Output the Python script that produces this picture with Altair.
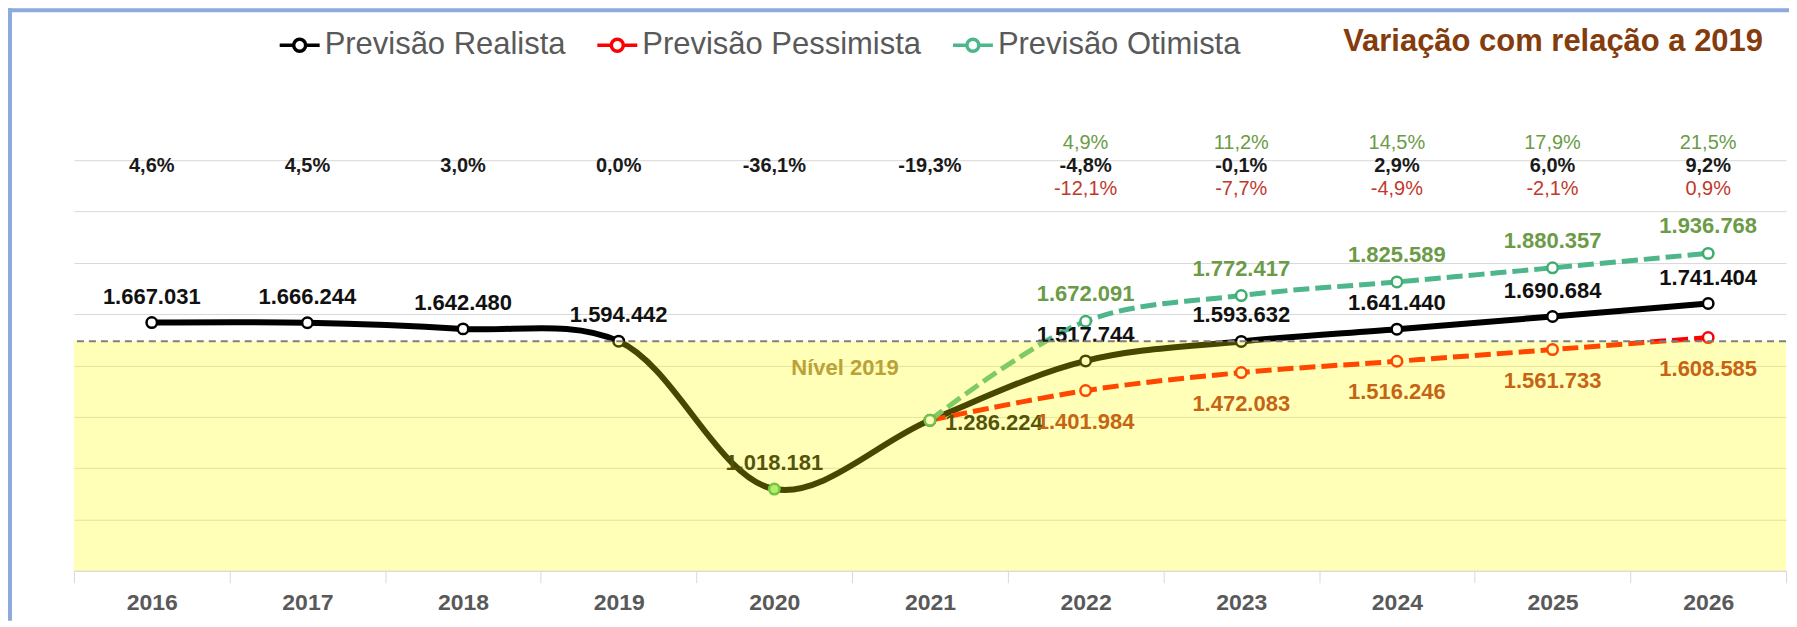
import altair as alt
import pandas as pd

# ---------------- data ----------------
YEARS = [2016, 2017, 2018, 2019, 2020, 2021, 2022, 2023, 2024, 2025, 2026]
REALISTA = [1667031, 1666244, 1642480, 1594442, 1018181, 1286224,
            1517744, 1593632, 1641440, 1690684, 1741404]
PROJ_YEARS = [2021, 2022, 2023, 2024, 2025, 2026]
PESSIMISTA = [1286224, 1401984, 1472083, 1516246, 1561733, 1608585]
OTIMISTA = [1286224, 1672091, 1772417, 1825589, 1880357, 1936768]

VAR_REALISTA = ["4,6%", "4,5%", "3,0%", "0,0%", "-36,1%", "-19,3%",
                "-4,8%", "-0,1%", "2,9%", "6,0%", "9,2%"]
VAR_YEARS = [2022, 2023, 2024, 2025, 2026]
VAR_OTIMISTA = ["4,9%", "11,2%", "14,5%", "17,9%", "21,5%"]
VAR_PESSIMISTA = ["-12,1%", "-7,7%", "-4,9%", "-2,1%", "0,9%"]

SERIES = ["Previsão Realista", "Previsão Pessimista", "Previsão Otimista"]
TITLE = "Variação com relação a 2019"
LEVEL_TEXT = "Nível 2019"
BASE_YEAR = 2019
Y_MIN, Y_MAX, Y_STEP = 700000, 2300000, 200000

# ---------------- styles ----------------
FONT = "Liberation Sans"
W, H = 1714, 411
BLACK = "#000000"
RED = "#FF0000"
GREEN = "#4DB68A"
GREEN_TXT = "#6B9B47"
RED_TXT = "#B0281C"
RED_PCT = "#C0392B"
GOLD = "#BBA238"
TITLE_COL = "#843C0C"
GRAY_TXT = "#595959"
GRID = "#D9D9D9"

LEVEL = REALISTA[YEARS.index(BASE_YEAR)]


def br(v):
    return f"{v:,}".replace(",", ".")


real = pd.DataFrame({"year": YEARS, "value": REALISTA, "series": SERIES[0],
                     "label": [br(v) for v in REALISTA], "var": VAR_REALISTA})
pess = pd.DataFrame({"year": PROJ_YEARS, "value": PESSIMISTA, "series": SERIES[1],
                     "label": [br(v) for v in PESSIMISTA]})
otim = pd.DataFrame({"year": PROJ_YEARS, "value": OTIMISTA, "series": SERIES[2],
                     "label": [br(v) for v in OTIMISTA]})
varp = pd.DataFrame({"year": VAR_YEARS, "oti": VAR_OTIMISTA, "pes": VAR_PESSIMISTA})
one = pd.DataFrame({"t": [TITLE]})

XS = alt.Scale(type="band", paddingInner=0, paddingOuter=0)
XAXIS = alt.Axis(title=None, labelAngle=0, labelFont=FONT, labelFontWeight="bold",
                 labelFontSize=23, labelColor=GRAY_TXT, tickBand="extent", tickSize=12,
                 tickColor=GRID, domainColor=GRID, labelPadding=9, grid=False)
YS = alt.Scale(domain=[Y_MIN, Y_MAX], nice=False, zero=False)
YAXIS = alt.Axis(title=None, values=list(range(Y_MIN, Y_MAX + 1, Y_STEP)), grid=True,
                 gridColor=GRID, gridWidth=1, labels=False, ticks=False, domain=False)

x = alt.X("year:O", scale=XS, axis=XAXIS)
y = alt.Y("value:Q", scale=YS, axis=YAXIS)

LEG_PATH = ("M-1,0L-0.32,0M0.32,0L1,0"
            "M-0.3,0A0.3,0.3,0,1,1,0.3,0A0.3,0.3,0,1,1,-0.3,0")
color = alt.Color("series:N",
                  scale=alt.Scale(domain=SERIES, range=[BLACK, RED, GREEN]),
                  legend=alt.Legend(title=None, orient="none", legendX=204, legendY=-137,
                                    direction="horizontal", labelFont=FONT,
                                    labelFontSize=31, labelColor=GRAY_TXT,
                                    labelLimit=500, columnPadding=24, labelOffset=3,
                                    symbolType=LEG_PATH, symbolSize=1600,
                                    symbolStrokeWidth=3.5, symbolFillColor="white"))

line_real = alt.Chart(real).mark_line(strokeWidth=6, interpolate="catmull-rom").encode(
    x=x, y=y, color=color)
line_pess = alt.Chart(pess).mark_line(strokeWidth=5, strokeDash=[16, 6],
                                      interpolate="catmull-rom").encode(x=x, y=y, color=color)
line_oti = alt.Chart(otim).mark_line(strokeWidth=5, strokeDash=[16, 6],
                                     interpolate="catmull-rom").encode(x=x, y=y, color=color)

pts_real = alt.Chart(real).mark_circle(size=110, strokeWidth=2.5, opacity=1).encode(
    x=x, y=y,
    fill=alt.condition("datum.year == 2020", alt.value("#9BE58F"), alt.value("white")),
    stroke=alt.condition("datum.year == 2020", alt.value("#3DAE5C"), alt.value(BLACK)))
pts_pess = alt.Chart(pess).transform_filter("datum.year > 2021").mark_circle(
    size=110, strokeWidth=2.5, opacity=1, fill="white", stroke=RED).encode(x=x, y=y)
pts_oti = alt.Chart(otim).mark_circle(
    size=110, strokeWidth=2.5, opacity=1, fill="white", stroke="#3DAE6E").encode(x=x, y=y)

LAB = dict(font=FONT, fontWeight="bold", fontSize=22)
lab_real = alt.Chart(real).transform_filter("datum.year != 2021").mark_text(
    dy=-26, color="#111111", **LAB).encode(x=x, y=y, text="label:N")
lab_real21 = alt.Chart(real).transform_filter("datum.year == 2021").mark_text(
    align="left", dx=15, dy=3, color="#111111", **LAB).encode(x=x, y=y, text="label:N")
lab_pess = alt.Chart(pess).transform_filter("datum.year > 2021").mark_text(
    dy=31, color=RED_TXT, **LAB).encode(x=x, y=y, text="label:N")
lab_oti = alt.Chart(otim).transform_filter("datum.year > 2021").mark_text(
    dy=-27, color=GREEN_TXT, **LAB).encode(x=x, y=y, text="label:N")

band = pd.DataFrame({"lo": [Y_MIN], "hi": [LEVEL]})
overlay = alt.Chart(band).mark_rect(color="#FFFF00", opacity=0.28).encode(
    x=alt.value(0), x2=alt.value(W),
    y=alt.Y("lo:Q", scale=YS, axis=YAXIS), y2="hi:Q")
level = alt.Chart(pd.DataFrame({"level": [LEVEL]})).mark_rule(
    color="#7F7F7F", strokeDash=[7, 5], strokeWidth=2).encode(
    y=alt.Y("level:Q", scale=YS, axis=YAXIS))
level_txt = alt.Chart(pd.DataFrame({"t": [LEVEL_TEXT]})).mark_text(
    font=FONT, fontWeight="bold", fontSize=22, color=GOLD).encode(
    text="t:N", x=alt.value(772), y=alt.value(208))

pct_real = alt.Chart(real).mark_text(font=FONT, fontWeight="bold", fontSize=20,
                                     color="#1A1A1A").encode(
    x=x, y=alt.value(6), text="var:N")
pct_oti = alt.Chart(varp).mark_text(font=FONT, fontSize=20, color=GREEN_TXT).encode(
    x=x, y=alt.value(-17), text="oti:N")
pct_pes = alt.Chart(varp).mark_text(font=FONT, fontSize=20, color=RED_PCT).encode(
    x=x, y=alt.value(29), text="pes:N")

title = alt.Chart(one).mark_text(font=FONT, fontWeight="bold", fontSize=31,
                                 color=TITLE_COL, align="right").encode(
    text="t:N", x=alt.value(1691), y=alt.value(-118))

frame_l = alt.Chart(one).mark_rect(color="#8EA9DB").encode(
    x=alt.value(-66), x2=alt.value(-62), y=alt.value(-152), y2=alt.value(H + 50))
frame_t = alt.Chart(one).mark_rect(color="#8EA9DB").encode(
    x=alt.value(-66), x2=alt.value(W + 3), y=alt.value(-152), y2=alt.value(-148))

chart = alt.layer(
    line_real, line_pess, line_oti,
    pts_real, pts_pess, pts_oti,
    lab_real, lab_real21, lab_pess, lab_oti,
    overlay, level, level_txt,
    pct_real, pct_oti, pct_pes, title, frame_l, frame_t,
).properties(
    width=W, height=H,
    autosize=alt.AutoSizeParams(type="none"),
    padding={"left": 66, "top": 152, "right": 3, "bottom": 50},
    background="white",
).configure_view(stroke=None)

chart.save("out.html", embed_options={"renderer": "svg", "actions": False})
